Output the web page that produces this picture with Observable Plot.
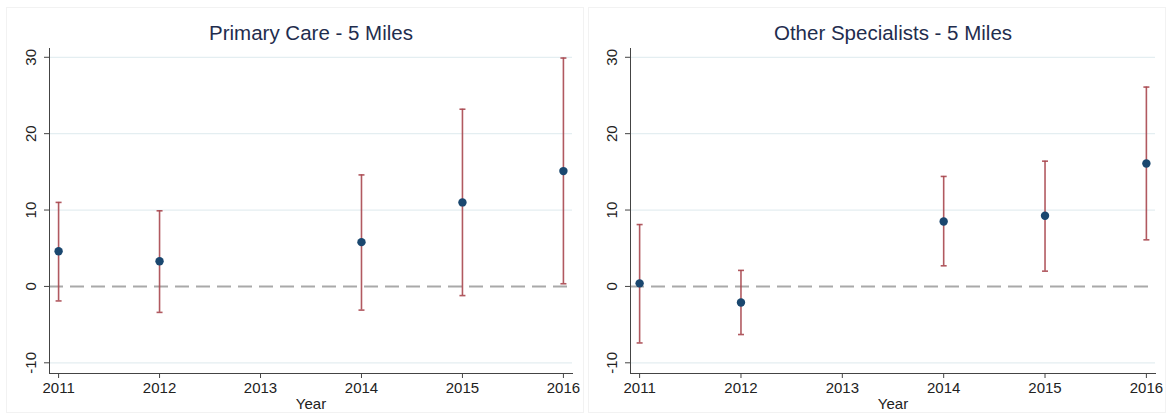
<!DOCTYPE html>
<html>
<head>
<meta charset="utf-8">
<script src="https://cdn.jsdelivr.net/npm/d3@7"></script>
<script src="https://cdn.jsdelivr.net/npm/@observablehq/plot@0.6"></script>
<style>
  html, body { margin: 0; padding: 0; background: #fff; }
  #wrap { position: relative; width: 1167px; height: 413px; overflow: hidden; font-family: "Liberation Sans", Arial, sans-serif; }
  .panel { position: absolute; top: 0; }
  .box { position: absolute; border: 1px solid #f2f2f2; pointer-events: none; }
</style>
</head>
<body>
<div id="wrap"></div>
<script>
// Event-study estimates with 95% confidence intervals, by year (2013 is the omitted base year)
const years = [2011, 2012, 2014, 2015, 2016];
const yearTicks = [2011, 2012, 2013, 2014, 2015, 2016];
const valueTicks = [-10, 0, 10, 20, 30];

const primaryTitle = "Primary Care - 5 Miles";
const primaryEst = [4.6, 3.3, 5.8, 11.0, 15.1];
const primaryLo  = [-1.9, -3.4, -3.1, -1.2, 0.35];
const primaryHi  = [11.0, 9.9, 14.6, 23.2, 29.9];

const otherTitle = "Other Specialists - 5 Miles";
const otherEst = [0.4, -2.1, 8.5, 9.25, 16.1];
const otherLo  = [-7.4, -6.3, 2.7, 2.0, 6.1];
const otherHi  = [8.1, 2.1, 14.4, 16.4, 26.1];

const navy = "#1a476f";
const maroon = "#a8474f";

// horizontal line used as the cap at each end of an interval
const capSymbol = {
  draw(context, size) {
    const w = Math.sqrt(size / Math.PI);
    context.moveTo(-w, 0);
    context.lineTo(w, 0);
  }
};

function panel(title, est, lo, hi, opts) {
  const rows = years.map((year, i) => ({year, est: est[i], lo: lo[i], hi: hi[i]}));
  return Plot.plot({
    width: opts.width,
    height: 413,
    marginLeft: opts.marginLeft,
    marginRight: opts.marginRight,
    marginTop: 48,
    marginBottom: 40,
    style: {fontFamily: "'Liberation Sans', Arial, sans-serif", fontSize: "15px", color: "#222", background: "transparent"},
    x: {domain: [2010.91, 2016.09]},
    y: {domain: [-11.4, 31.15]},
    marks: [
      Plot.gridY(valueTicks.filter(v => v !== 0), {stroke: "#e4eef1", strokeOpacity: 1, strokeWidth: 1.2}),
      Plot.ruleY([0], {stroke: "#a9a9a9", strokeWidth: 2, strokeDasharray: "14,7"}),
      Plot.axisY({ticks: valueTicks, tickSize: 5, tickPadding: 9, tickRotate: -90, tickFormat: d => String(d), label: null, stroke: "#444", fontSize: 15}),
      Plot.axisX({ticks: yearTicks, tickSize: 5, tickPadding: 4, tickFormat: d => String(d), label: "Year", labelAnchor: "center", labelArrow: "none", labelOffset: 35, stroke: "#444", fontSize: 15}),
      Plot.frame({anchor: "left", stroke: "#444"}),
      Plot.frame({anchor: "bottom", stroke: "#444"}),
      Plot.ruleX(rows, {x: "year", y1: "lo", y2: "hi", stroke: maroon, strokeWidth: 1.6, strokeOpacity: 0.9}),
      Plot.dot(rows, {x: "year", y: "lo", symbol: capSymbol, r: 3, stroke: maroon, strokeWidth: 1.6, strokeOpacity: 0.9}),
      Plot.dot(rows, {x: "year", y: "hi", symbol: capSymbol, r: 3, stroke: maroon, strokeWidth: 1.6, strokeOpacity: 0.9}),
      Plot.dot(rows, {x: "year", y: "est", r: 4.2, fill: navy, stroke: "none"}),
      Plot.text([title], {frameAnchor: "top", dy: -9, text: d => d, fontSize: 20.5, fill: "#1f2d4e", lineAnchor: "bottom"})
    ]
  });
}

const wrap = document.getElementById("wrap");

const boxes = [
  {left: 6, top: 7, width: 576, height: 404},
  {left: 588, top: 7, width: 576, height: 404}
];
for (const b of boxes) {
  const d = document.createElement("div");
  d.className = "box";
  Object.assign(d.style, {left: b.left + "px", top: b.top + "px", width: b.width + "px", height: b.height + "px"});
  wrap.appendChild(d);
}

const left = document.createElement("div");
left.className = "panel";
left.style.left = "0px";
left.appendChild(panel(primaryTitle, primaryEst, primaryLo, primaryHi, {width: 583, marginLeft: 49, marginRight: 11}));
wrap.appendChild(left);

const right = document.createElement("div");
right.className = "panel";
right.style.left = "583px";
right.appendChild(panel(otherTitle, otherEst, otherLo, otherHi, {width: 584, marginLeft: 47, marginRight: 12}));
wrap.appendChild(right);
</script>
</body>
</html>
